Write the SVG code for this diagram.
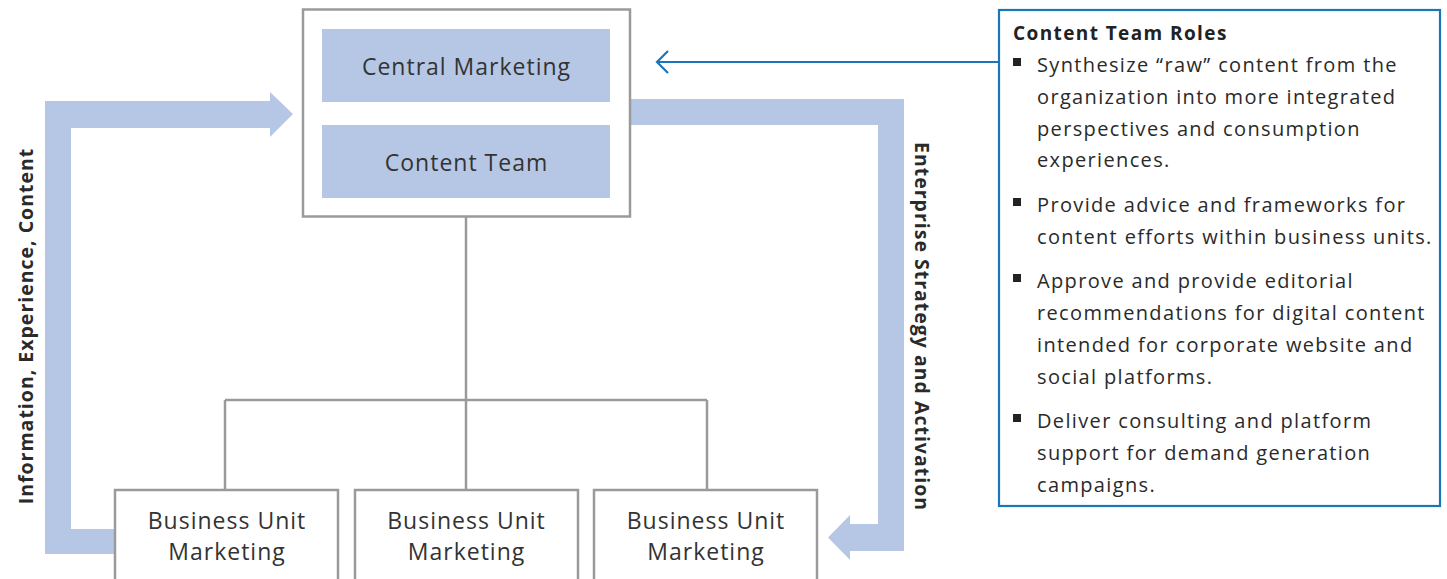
<svg xmlns="http://www.w3.org/2000/svg" width="1447" height="579" viewBox="0 0 1447 579">
<style>
.box{fill:#fff;stroke:#9a9a9a;stroke-width:2.5}
.inner{fill:#b6c7e5}
.flow{fill:#b6c7e5}
.lbl{font-family:"Open Sans","Liberation Sans",sans-serif;font-size:23px;letter-spacing:1px;fill:#333;text-anchor:middle}
.vlbl{font-family:"Open Sans","Liberation Sans",sans-serif;font-size:19.5px;font-weight:bold;letter-spacing:1px;fill:#2a2a2a;text-anchor:middle}
.conn{fill:none;stroke:#9a9a9a;stroke-width:2.5}
.ttl{font-family:"Open Sans","Liberation Sans",sans-serif;font-size:19px;font-weight:bold;letter-spacing:1.4px;fill:#222}
.bt{font-family:"Open Sans","Liberation Sans",sans-serif;font-size:20px;letter-spacing:1.35px;fill:#2a2a2a}
.bul{fill:#222}
.call{fill:none;stroke:#1a75bb;stroke-width:2.2}
</style>
<g id="connectors">
<path class="flow" d="M45,101 H270 V92 L293,114 L270,137 V128 H71 V529 H115 V554 H45 Z"/>
<path class="flow" d="M630,99 H904 V551 H850 V560 L828,537.5 L850,515 V524 H878 V125 H630 Z"/>
<path class="conn" d="M466,216 V400 M225,400 H707 M225,400 V490 M466,400 V490 M707,400 V490"/>
<path class="call" d="M998,62 H657 M668,51 L657,62 L668,73"/>
</g>
<g id="central">
<rect class="box" x="303" y="9.5" width="327" height="207"/>
<rect class="inner" x="322" y="29" width="288" height="73"/>
<text class="lbl" x="466.5" y="75">Central Marketing</text>
<rect class="inner" x="322" y="125" width="288" height="73"/>
<text class="lbl" x="466.5" y="171">Content Team</text>
</g>
<g id="bu1">
<rect class="box" x="115" y="490" width="223" height="100"/>
<text class="lbl" x="227" y="529">Business Unit</text>
<text class="lbl" x="227" y="560">Marketing</text>
</g>
<g id="bu2">
<rect class="box" x="355" y="490" width="223" height="100"/>
<text class="lbl" x="466.5" y="529">Business Unit</text>
<text class="lbl" x="466.5" y="560">Marketing</text>
</g>
<g id="bu3">
<rect class="box" x="594" y="490" width="223" height="100"/>
<text class="lbl" x="706" y="529">Business Unit</text>
<text class="lbl" x="706" y="560">Marketing</text>
</g>
<g id="label-left">
<text class="vlbl" transform="translate(33,326) rotate(-90)">Information, Experience, Content</text>
</g>
<g id="label-right">
<text class="vlbl" transform="translate(915,326.5) rotate(90)">Enterprise Strategy and Activation</text>
</g>
<g id="roles">
<rect x="999" y="10" width="441" height="496" fill="#fff" stroke="#1a75bb" stroke-width="2.2"/>
<text class="ttl" x="1013" y="40">Content Team Roles</text>
<rect class="bul" x="1013" y="58" width="8" height="8"/>
<text class="bt" x="1037" y="72">Synthesize “raw” content from the</text>
<text class="bt" x="1037" y="104">organization into more integrated</text>
<text class="bt" x="1037" y="136">perspectives and consumption</text>
<text class="bt" x="1037" y="167">experiences.</text>
<rect class="bul" x="1013" y="198" width="8" height="8"/>
<text class="bt" x="1037" y="212">Provide advice and frameworks for</text>
<text class="bt" x="1037" y="244">content efforts within business units.</text>
<rect class="bul" x="1013" y="274" width="8" height="8"/>
<text class="bt" x="1037" y="288">Approve and provide editorial</text>
<text class="bt" x="1037" y="320">recommendations for digital content</text>
<text class="bt" x="1037" y="352">intended for corporate website and</text>
<text class="bt" x="1037" y="384">social platforms.</text>
<rect class="bul" x="1013" y="414" width="8" height="8"/>
<text class="bt" x="1037" y="428">Deliver consulting and platform</text>
<text class="bt" x="1037" y="460">support for demand generation</text>
<text class="bt" x="1037" y="492">campaigns.</text>
</g>
</svg>
